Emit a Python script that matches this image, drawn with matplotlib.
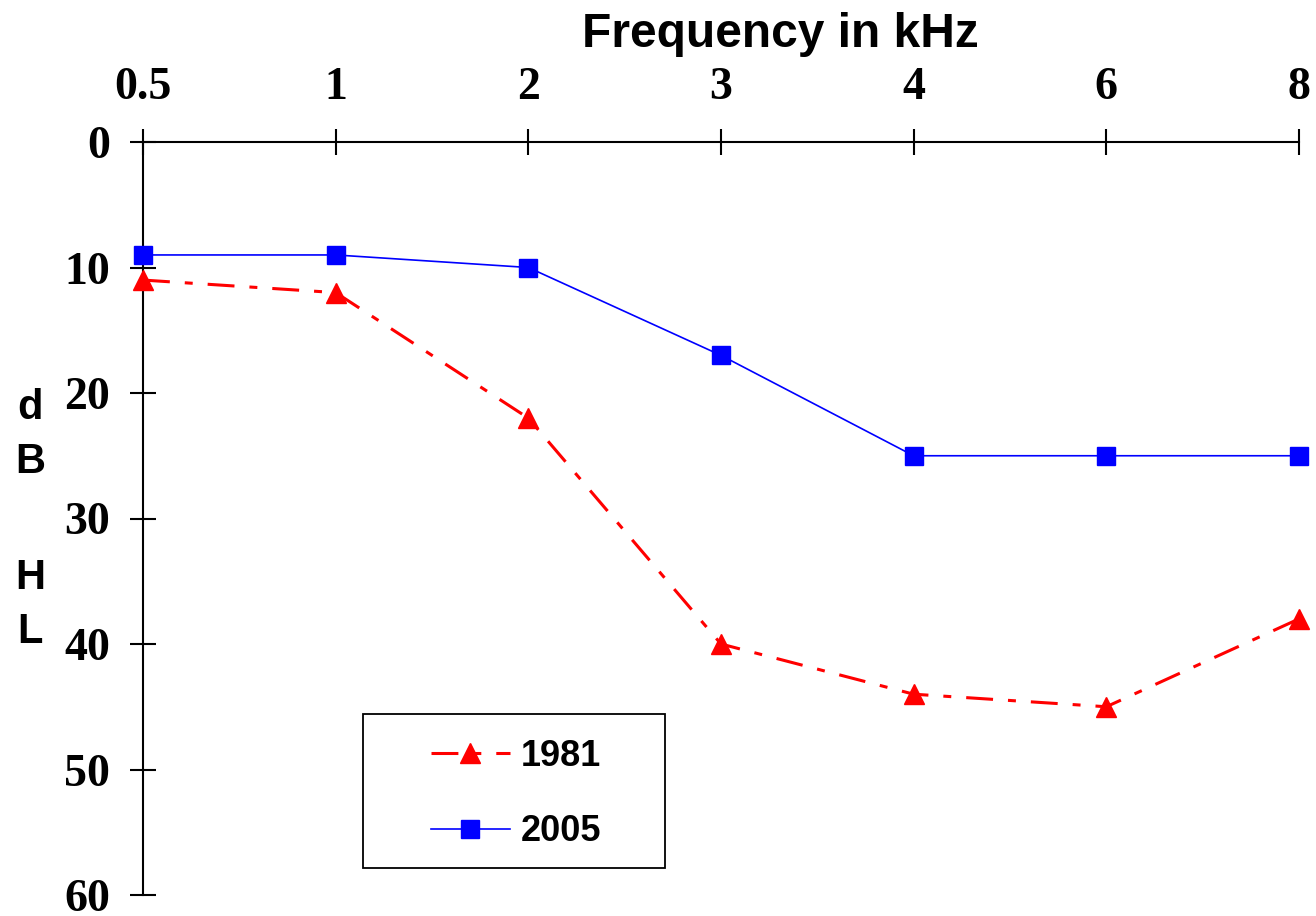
import matplotlib
matplotlib.use("Agg")
import matplotlib.pyplot as plt
from matplotlib.patches import Rectangle

freq_labels = ["0.5", "1", "2", "3", "4", "6", "8"]
y_1981 = [11, 12, 22, 40, 44, 45, 38]
y_2005 = [9, 9, 10, 17, 25, 25, 25]
yticks = [0, 10, 20, 30, 40, 50, 60]

W, H = 1316, 916
fig = plt.figure(figsize=(W / 100, H / 100), dpi=100)
ax = fig.add_axes([143 / W, 1 - 895 / H, (1299 - 143) / W, (895 - 142) / H])

x = list(range(len(freq_labels)))
ax.plot(x, y_1981, color="#ff0000", lw=2.2, ls=(0, (8.8, 4.9, 2.6, 4.9)),
        marker="^", ms=15, mec="#ff0000", mfc="#ff0000", label="1981", clip_on=False, zorder=3)
ax.plot(x, y_2005, color="#0000ff", lw=1.2, ls="-",
        marker="s", ms=12.5, mec="#0000ff", mfc="#0000ff", label="2005", clip_on=False, zorder=3)

ax.set_xlim(0, 6)
ax.set_ylim(60, 0)
ax.set_xticks(x)
ax.set_xticklabels(freq_labels)
ax.set_yticks(yticks)
ax.set_yticklabels([str(v) for v in yticks])
ax.xaxis.tick_top()

for s in ["right", "bottom"]:
    ax.spines[s].set_visible(False)
for s in ["left", "top"]:
    ax.spines[s].set_linewidth(1.5)

ax.tick_params(axis="x", direction="inout", length=19, width=1.5, pad=14)
ax.tick_params(axis="y", direction="inout", length=19, width=1.5, pad=14)
for lab in ax.get_xticklabels() + ax.get_yticklabels():
    lab.set_fontfamily("Liberation Serif")
    lab.set_fontweight("bold")
    lab.set_fontsize(33)

sans = dict(family="Liberation Sans", weight="bold")
fig.text(780 / W, 1 - 47 / H, "Frequency in kHz", ha="center", va="baseline", fontsize=34.5, **sans)
for ch, yy in zip(["d", "B", "H", "L"], [408, 462, 578, 632]):
    fig.text(30 / W, 1 - yy / H, ch, ha="center", va="center", fontsize=30, **sans)

# legend box
fig.patches.append(Rectangle((363 / W, 1 - 868 / H), (665 - 363) / W, (868 - 714) / H,
                             transform=fig.transFigure, fill=False, edgecolor="black", lw=1.3))
leg = fig.legend(loc="center", bbox_to_anchor=(516 / W, 1 - 794 / H), frameon=False,
                 prop=dict(family="Liberation Sans", weight="bold", size=26),
                 handlelength=2.2, handletextpad=0.3, labelspacing=1.12, markerscale=1.0)

fig.savefig("out.png", dpi=100)
